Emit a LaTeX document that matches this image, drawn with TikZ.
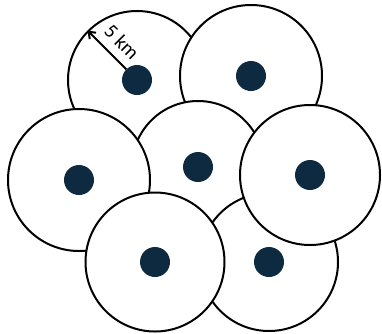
\documentclass[tikz,border=0pt]{standalone}
\usetikzlibrary{arrows.meta}
\usepackage{fontspec}
\setsansfont{Carlito}
\definecolor{dotblue}{HTML}{0E2A40}
\begin{document}
\begin{tikzpicture}[x=1pt,y=-1pt,
  cell/.style={circle,draw=black,fill=white,line width=2pt,inner sep=0pt,minimum size=#1},
  tower/.style={circle,fill=dotblue,inner sep=0pt,minimum size=30pt}]
\useasboundingbox (0,0) rectangle (382,333);
\node[cell=138pt] (tl) at (137,80) {};
\node[cell=142pt] (tr) at (251,76) {};
\node[cell=132pt] (m) at (198,167) {};
\node[cell=138pt] (br) at (269,262) {};
\node[cell=142pt] (lm) at (79,180) {};
\node[cell=140pt] (rm) at (310,175) {};
\node[cell=139pt] (bl) at (155,262) {};
\node[tower] (tld) at (tl) {};
\node[tower] (trd) at (tr) {};
\node[tower] (md) at (m) {};
\node[tower] (brd) at (br) {};
\node[tower] (lmd) at (lm) {};
\node[tower] (rmd) at (rm) {};
\node[tower] (bld) at (bl) {};
\draw[line width=2pt,-{Straight Barb[length=6pt,width=9pt,line width=2pt]}] (tld.north west) -- (tl.north west);
\node[font=\sffamily\fontsize{20}{22}\selectfont,rotate=-45,inner sep=0pt] (lbl) at (122,42) {5 km};
\end{tikzpicture}
\end{document}
